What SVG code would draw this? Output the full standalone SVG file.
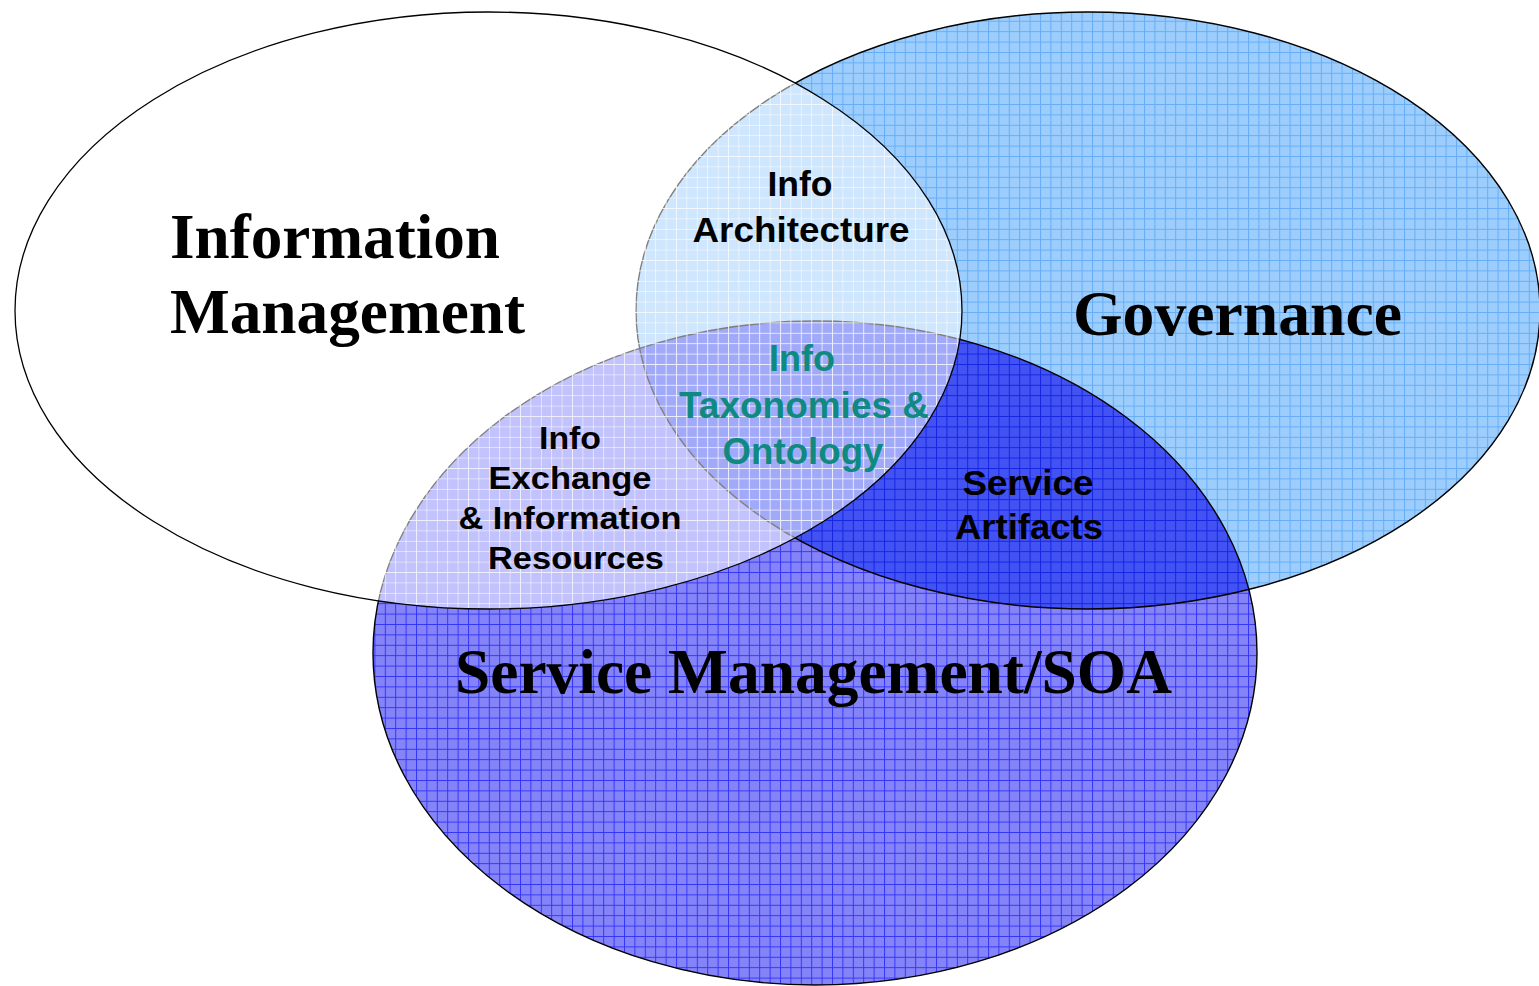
<svg xmlns="http://www.w3.org/2000/svg" width="1539" height="986" viewBox="0 0 1539 986">
<style>
.title{font-family:"Liberation Serif","Times New Roman",serif;font-weight:bold;font-size:63px;fill:#000}
.lbl{font-family:"Liberation Sans",Arial,sans-serif;font-weight:bold;font-size:34.5px;fill:#000;text-anchor:middle}
.sm{font-size:31px}
.teal{fill:#0f8a80;font-size:37px}
.edge{fill:none;stroke:#000;stroke-width:1.4}
</style>
<defs>
<pattern id="pGov" patternUnits="userSpaceOnUse" width="10.4" height="10.4">
<rect width="10.4" height="10.4" fill="#9ccdfc"/>
<path d="M0 0.5H10.4M0.5 0V10.4" stroke="#66adf6" stroke-width="1"/>
</pattern>
<pattern id="pSoa" patternUnits="userSpaceOnUse" width="10.4" height="10.4">
<rect width="10.4" height="10.4" fill="#8484f8"/>
<path d="M0 0.5H10.4M0.5 0V10.4" stroke="#3535fa" stroke-width="1"/>
</pattern>
<pattern id="pDark" patternUnits="userSpaceOnUse" width="10.4" height="10.4">
<rect width="10.4" height="10.4" fill="#4352f2"/>
<path d="M0 0.5H10.4M0.5 0V10.4" stroke="#1525e2" stroke-width="1"/>
</pattern>
<pattern id="pIm" patternUnits="userSpaceOnUse" width="10.4" height="10.4">
<rect width="10.4" height="10.4" fill="#fff" fill-opacity="0.5"/>
<path d="M0 0.5H10.4M0.5 0V10.4" stroke="#fff" stroke-opacity="0.85" stroke-width="1"/>
</pattern>
<clipPath id="clipGov">
<ellipse cx="1088" cy="310.5" rx="452" ry="298.5"/>
</clipPath>
</defs>
<rect width="1539" height="986" fill="#fff"/>

<g id="governance">
<ellipse cx="1088" cy="310.5" rx="452" ry="298.5" fill="url(#pGov)"/>
</g>
<g id="service-management-soa">
<ellipse cx="815" cy="653" rx="442" ry="332" fill="url(#pSoa)"/>
<ellipse cx="815" cy="653" rx="442" ry="332" fill="url(#pDark)" clip-path="url(#clipGov)"/>
<ellipse class="edge" cx="1088" cy="310.5" rx="452" ry="298.5"/>
<ellipse class="edge" cx="815" cy="653" rx="442" ry="332"/>
</g>
<g id="information-management">
<ellipse cx="488.5" cy="310.5" rx="473.5" ry="298.5" fill="url(#pIm)" stroke="#000" stroke-width="1.3"/>
</g>

<g id="connectors"></g>

<g id="label-information-management">
<text class="title" x="170" y="258" textLength="330" lengthAdjust="spacingAndGlyphs">Information</text>
<text class="title" x="170" y="333" textLength="355" lengthAdjust="spacingAndGlyphs">Management</text>
</g>
<g id="label-governance">
<text class="title" x="1073" y="335" textLength="329" lengthAdjust="spacingAndGlyphs">Governance</text>
</g>
<g id="label-soa">
<text class="title" x="455" y="693" textLength="717" lengthAdjust="spacingAndGlyphs">Service Management/SOA</text>
</g>
<g id="info-architecture">
<text class="lbl" x="800" y="196" textLength="65" lengthAdjust="spacingAndGlyphs">Info</text>
<text class="lbl" x="801" y="242" textLength="217" lengthAdjust="spacingAndGlyphs">Architecture</text>
</g>
<g id="info-taxonomies-ontology">
<text class="lbl teal" x="802" y="371" textLength="66" lengthAdjust="spacingAndGlyphs">Info</text>
<text class="lbl teal" x="804" y="418" textLength="250" lengthAdjust="spacingAndGlyphs">Taxonomies &amp;</text>
<text class="lbl teal" x="803" y="464" textLength="161" lengthAdjust="spacingAndGlyphs">Ontology</text>
</g>
<g id="info-exchange">
<text class="lbl sm" x="570" y="449" textLength="62" lengthAdjust="spacingAndGlyphs">Info</text>
<text class="lbl sm" x="570" y="489" textLength="163" lengthAdjust="spacingAndGlyphs">Exchange</text>
<text class="lbl sm" x="570" y="529" textLength="223" lengthAdjust="spacingAndGlyphs">&amp; Information</text>
<text class="lbl sm" x="576" y="569" textLength="176" lengthAdjust="spacingAndGlyphs">Resources</text>
</g>
<g id="service-artifacts">
<text class="lbl" x="1028" y="495" textLength="131" lengthAdjust="spacingAndGlyphs">Service</text>
<text class="lbl" x="1029" y="539" textLength="148" lengthAdjust="spacingAndGlyphs">Artifacts</text>
</g>
</svg>
